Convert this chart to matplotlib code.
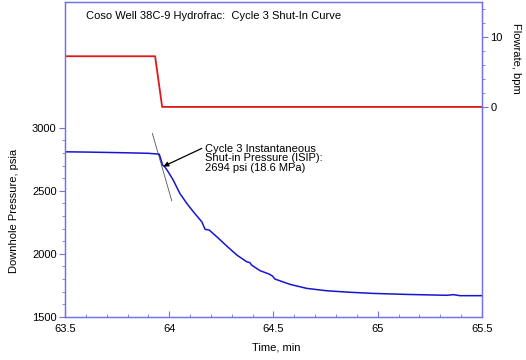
import matplotlib
matplotlib.use("Agg")
import matplotlib.pyplot as plt
from matplotlib.ticker import FixedLocator

plt.rcParams["font.family"] = ["Liberation Sans", "DejaVu Sans"]

# --- data ------------------------------------------------------------------
time_p = [63.50, 63.60, 63.70, 63.80, 63.90, 63.952, 63.960, 63.968, 63.979,
          63.995, 64.019, 64.051, 64.084, 64.116, 64.156, 64.172, 64.192,
          64.228, 64.276, 64.324, 64.371, 64.387, 64.395, 64.435, 64.480,
          64.495, 64.507, 64.579, 64.659, 64.755, 64.867, 64.979, 65.139,
          65.331, 65.363, 65.394, 65.500]
pressure = [2810, 2808, 2805, 2802, 2798, 2791, 2750, 2704, 2690,
            2651, 2585, 2479, 2400, 2333, 2254, 2194, 2188,
            2135, 2061, 1990, 1937, 1929, 1910, 1866, 1838,
            1823, 1799, 1757, 1725, 1706, 1694, 1685, 1677,
            1670, 1675, 1667, 1667]

time_q = [63.50, 63.932, 63.966, 65.50]
flowrate = [7.27, 7.27, 0.0, 0.0]

tangent_t = [63.919, 64.012]
tangent_p = [2956, 2421]

isip_t, isip_p = 63.972, 2694
isip_text = "Cycle 3 Instantaneous\nShut-in Pressure (ISIP):\n2694 psi (18.6 MPa)"
title = "Coso Well 38C-9 Hydrofrac:  Cycle 3 Shut-In Curve"

spine_col = "#7272e6"

# --- figure ----------------------------------------------------------------
fig = plt.figure(figsize=(5.26, 3.6), dpi=100)
ax = fig.add_axes([0.1236, 0.1203, 0.7927, 0.8741])
ax2 = ax.twinx()

ax.plot(time_p, pressure, color="#1515d0", lw=1.1, zorder=3)
ax.plot(tangent_t, tangent_p, color="#555555", lw=0.6, zorder=2)
ax2.plot(time_q, flowrate, color="#e01818", lw=1.3)

ax.set_xlim(63.5, 65.5)
ax.set_ylim(1500, 4000)
ax2.set_ylim(-30.1, 15.05)

ax.set_xticks([63.5, 64, 64.5, 65, 65.5])
ax.set_xticklabels(["63.5", "64", "64.5", "65", "65.5"])
ax.xaxis.set_minor_locator(FixedLocator([63.5 + 0.1 * i for i in range(21)]))
ax.set_yticks([1500, 2000, 2500, 3000])
ax.yaxis.set_minor_locator(FixedLocator(list(range(1500, 3001, 100))))
ax2.set_yticks([0, 10])
ax2.yaxis.set_minor_locator(FixedLocator([2, 4, 6, 8, 12, 14]))

ax.tick_params(axis="x", which="both", direction="in", color=spine_col,
               labelsize=8, pad=5, top=False)
ax.tick_params(axis="x", which="major", length=4)
ax.tick_params(axis="x", which="minor", length=2.5)
ax.tick_params(axis="y", which="both", direction="out", color=spine_col,
               labelsize=8, pad=2)
ax.tick_params(axis="y", which="major", length=4)
ax.tick_params(axis="y", which="minor", length=2)
ax2.tick_params(axis="y", which="both", direction="out", color=spine_col,
                labelsize=8, pad=2)
ax2.tick_params(axis="y", which="major", length=4)
ax2.tick_params(axis="y", which="minor", length=2)

for a in (ax, ax2):
    for s in a.spines.values():
        s.set_color(spine_col)
        s.set_linewidth(0.9)

ax.text(0.05, 0.955, title, transform=ax.transAxes, fontsize=8,
        ha="left", va="center")

ax.text(64.171, 2757, isip_text, fontsize=8, ha="left", va="center",
        linespacing=0.95)
ax.annotate("", xy=(isip_t, isip_p), xytext=(64.156, 2837),
            arrowprops=dict(arrowstyle="-|>", color="black", lw=0.9,
                            mutation_scale=7, shrinkA=0, shrinkB=0))

fig.text(276 / 526, 1 - 347 / 360, "Time, min", fontsize=8,
         ha="center", va="center")
fig.text(14 / 526, 1 - 211 / 360, "Downhole Pressure, psia", fontsize=8,
         ha="center", va="center", rotation=90)
fig.text(516 / 526, 1 - 58 / 360, "Flowrate, bpm", fontsize=8,
         ha="center", va="center", rotation=270)

fig.savefig("out.png", dpi=100)
